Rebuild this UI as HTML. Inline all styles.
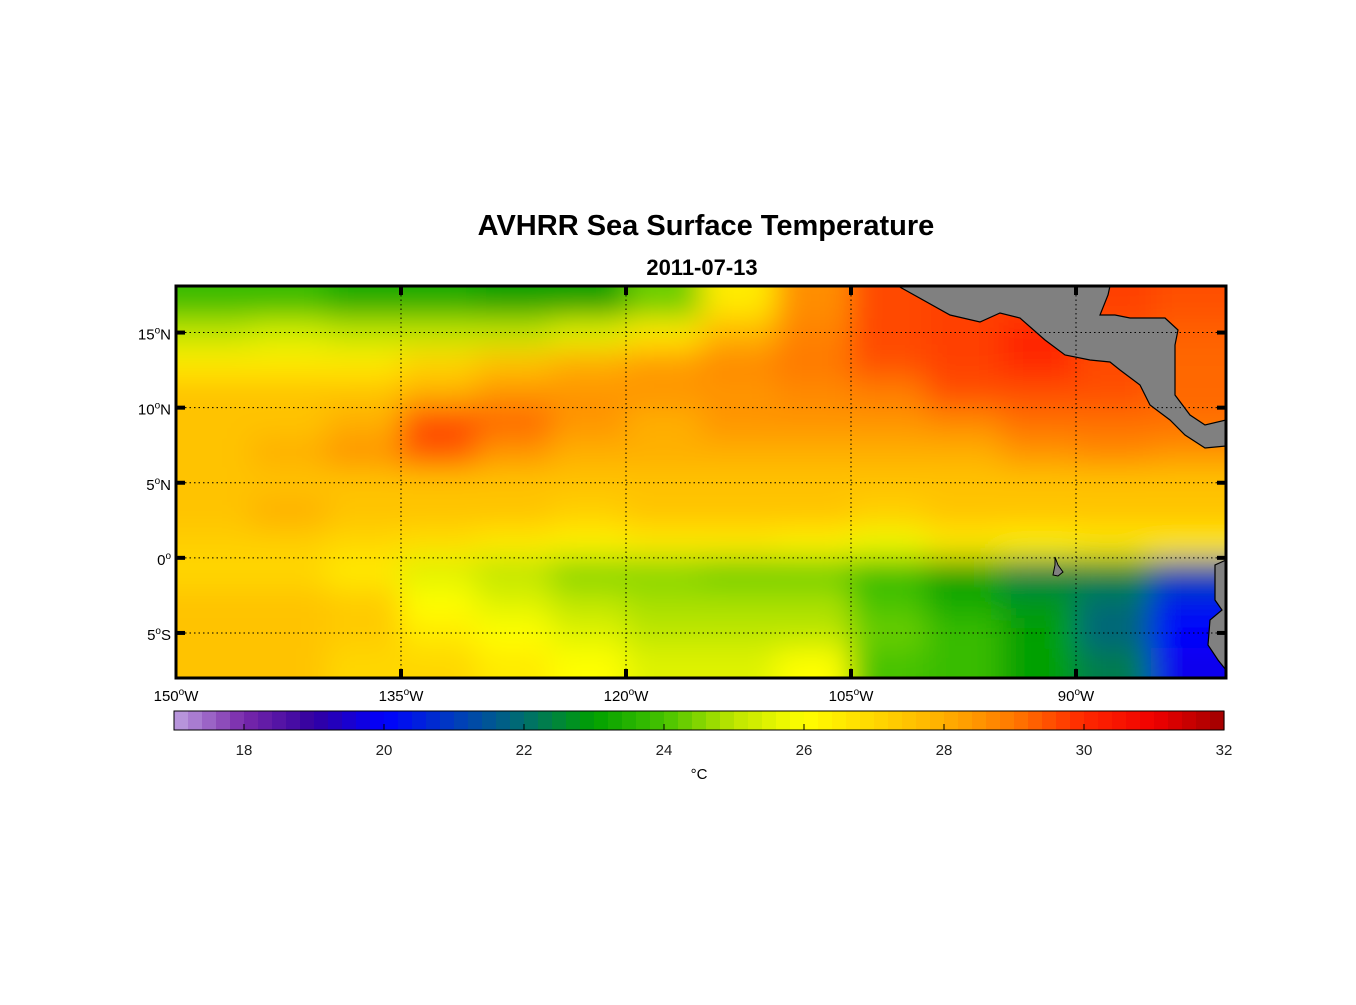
<!DOCTYPE html>
<html><head><meta charset="utf-8">
<style>
html,body{margin:0;padding:0;background:#fff;}
svg text{font-family:"Liberation Sans",Arial,sans-serif;}
</style></head>
<body>
<svg id="chart" width="1356" height="1000" viewBox="0 0 1356 1000" xmlns="http://www.w3.org/2000/svg">
<defs>
<filter id="blur" x="-5%" y="-5%" width="110%" height="110%"><feGaussianBlur stdDeviation="15"/></filter>
<clipPath id="mapclip"><rect x="176" y="286" width="1050" height="392"/></clipPath>
</defs>
<text x="706" y="235" text-anchor="middle" font-size="29" font-weight="bold">AVHRR Sea Surface Temperature</text>
<text x="702" y="275" text-anchor="middle" font-size="22" font-weight="bold">2011-07-13</text>
<g id="map" clip-path="url(#mapclip)">
<rect x="176" y="286" width="1050" height="392" fill="#ffb000"/>
<g id="cells" filter="url(#blur)"></g>
<path fill="#808080" stroke="#000" stroke-width="1.2" d="M898,286 L950,315 L980,322 L1000,313 L1020,318 L1045,340 L1065,355 L1090,360 L1110,362 L1120,370 L1140,385 L1150,405 L1170,420 L1185,435 L1205,448 L1226,446 L1226,420 L1205,425 L1190,415 L1175,395 L1175,345 L1178,330 L1165,318 L1130,318 L1115,315 L1100,315 L1108,295 L1110,286 Z"/>
<path fill="#808080" stroke="#000" stroke-width="1.2" d="M1226,560 L1215,565 L1215,600 L1222,610 L1210,620 L1208,645 L1218,660 L1226,670 Z"/>
<path fill="#808080" stroke="#000" stroke-width="1" d="M1055,557 L1058,565 L1063,572 L1058,576 L1053,575 L1055,565 Z"/>
<g id="grid"></g>
</g>
<rect x="176" y="286" width="1050" height="392" fill="none" stroke="#000" stroke-width="3"/>
<g id="ticks"></g>
<g id="colorbar"></g>
<text x="699" y="779" text-anchor="middle" font-size="15">°C</text>
</svg>
<script>
const lats=[17,15,13,11,9,7,5,3,1,-1,-3,-5,-7];
const lons=[-147.5,-142.5,-137.5,-132.5,-127.5,-122.5,-117.5,-112.5,-107.5,-102.5,-97.5,-92.5,-87.5,-82.5];
const sst=[
[23.8,23.8,23.3,23.3,23,23,24.3,26.5,28.6,29.6,29.7,29.7,29.7,29.5],
[25,25.3,25,25,25,25.5,26.5,27.8,28.8,29.6,29.7,30,29.5,29.3],
[26.5,26.5,26.5,27,27.5,28,28.3,28.7,29,29.5,29.7,30,29.6,29.2],
[27.5,27.5,27.5,28,28.5,28.5,28.5,28.5,28.7,28.9,29.5,29.5,29.5,29.2],
[27.5,27.5,28,29.6,29.2,28.5,28,28.5,28.5,28.5,28.7,29.1,29.1,29.1],
[27.5,28,28.5,29.4,28.5,28,28,28,28,28,28,28.5,28.7,28.5],
[27.5,27.5,27.5,27.5,27.5,27.5,27.5,27.5,27.5,27.5,27.5,27.5,27.5,27.5],
[27.5,28,27.5,27.5,27.5,27.2,27.5,27.5,27.5,27.2,27.5,27.5,27.5,27.5],
[27.2,27.2,27,26.8,26.5,26.3,26.5,26.5,26.3,25.8,26.5,26.3,26.5,26.5],
[27,27,26.5,25.5,25,24.5,24.5,24.3,24.3,23.8,23,22.3,22.5,21.3],
[27.5,27.5,27.3,26,25.5,25,24.8,24.8,24.8,24,23.3,22.8,22,20.3],
[27.5,27.5,27.3,26.5,26,25.5,25,25,25,24.3,23.8,23,21.8,20],
[27.5,27.5,27,27,26.5,26,25.5,25.5,26,24,23.8,23,22.3,19.8]];
const cbTicks=[18,20,22,24,26,28,30,32];
const lonTicks=[-150,-135,-120,-105,-90];
const latTicks=[15,10,5,0,-5];

const X0=176,Y0=286,W=1050,H=392;
const xs=lon=>X0+(lon+150)/70*W;
const ys=lat=>Y0+(18.1-lat)/26.1*H;
const cmapStops=[[17,[190,160,225]],[18,[120,40,170]],[19,[50,0,160]],[20,[0,0,255]],[21,[0,60,190]],[22,[0,110,110]],[23,[0,160,0]],[24,[70,195,0]],[25,[190,230,0]],[26,[255,255,0]],[27,[255,215,0]],[28,[255,175,0]],[29,[255,120,0]],[30,[255,40,0]],[31,[240,0,0]],[32,[160,0,0]]];
function cmap(v){
  v=Math.max(17,Math.min(32,v));
  for(let i=0;i<cmapStops.length-1;i++){
    const a=cmapStops[i],b=cmapStops[i+1];
    if(v<=b[0]){const t=(v-a[0])/(b[0]-a[0]);
      return 'rgb('+a[1].map((c,k)=>Math.round(c+(b[1][k]-c)*t)).join(',')+')';}
  }
  return 'rgb(160,0,0)';
}
const NS='http://www.w3.org/2000/svg';
function mk(tag,attrs,parent){const e=document.createElementNS(NS,tag);for(const k in attrs)e.setAttribute(k,attrs[k]);parent.appendChild(e);return e;}
const cells=document.getElementById('cells');
lats.forEach((lat,i)=>lons.forEach((lon,j)=>{
  let x1=xs(lon-2.5),x2=xs(lon+2.5),y1=ys(lat+1),y2=ys(lat-1);
  if(j===0)x1-=60; if(j===lons.length-1)x2+=60;
  if(i===0)y1-=60; if(i===lats.length-1)y2+=60;
  const r=mk('rect',{x:x1,y:y1,width:x2-x1+0.5,height:y2-y1+0.5,fill:cmap(sst[i][j])},cells);
  
  
}));
const grid=document.getElementById('grid'),ticks=document.getElementById('ticks');
lonTicks.forEach(l=>{
  const x=xs(l);
  if(l>-150){const g=mk('line',{x1:x,y1:Y0,x2:x,y2:Y0+H,stroke:'#000','stroke-width':1,'stroke-dasharray':'1.5,3'},grid);
  
  mk('line',{x1:x,y1:Y0,x2:x,y2:Y0+9,stroke:'#000','stroke-width':4},ticks);
  mk('line',{x1:x,y1:Y0+H-9,x2:x,y2:Y0+H,stroke:'#000','stroke-width':4},ticks);}
  const t=mk('text',{x:x,y:701,'text-anchor':'middle','font-size':15},ticks);
  
  t.innerHTML=Math.abs(l)+'<tspan dy="-6" font-size="10">o</tspan><tspan dy="6">W</tspan>';
});
latTicks.forEach(l=>{
  const y=ys(l);
  const g=mk('line',{x1:X0,y1:y,x2:X0+W,y2:y,stroke:'#000','stroke-width':1,'stroke-dasharray':'1.5,3'},grid);
  
  mk('line',{x1:X0,y1:y,x2:X0+9,y2:y,stroke:'#000','stroke-width':4},ticks);
  mk('line',{x1:X0+W-9,y1:y,x2:X0+W,y2:y,stroke:'#000','stroke-width':4},ticks);
  const t=mk('text',{x:171,y:y+7,'text-anchor':'end','font-size':15},ticks);
  
  const hemi=l>0?'N':(l<0?'S':'');
  t.innerHTML=Math.abs(l)+'<tspan dy="-6" font-size="10">o</tspan><tspan dy="6">'+hemi+'</tspan>';
});
const cb=document.getElementById('colorbar');
const CX0=174,CX1=1224,CY=711,CH=19;
const cbx=v=>CX0+(v-17)/15*(CX1-CX0);
const nSteps=75;
for(let k=0;k<nSteps;k++){
  const v0=17+k*15/nSteps,v1=17+(k+1)*15/nSteps;
  mk('rect',{x:cbx(v0),y:CY,width:cbx(v1)-cbx(v0)+0.6,height:CH,fill:cmap((v0+v1)/2)},cb);
}
mk('rect',{x:CX0,y:CY,width:CX1-CX0,height:CH,fill:'none',stroke:'#000','stroke-width':1},cb);
cbTicks.forEach(v=>{
  const x=cbx(v);
  mk('line',{x1:x,y1:CY+CH-6,x2:x,y2:CY+CH,stroke:'#000','stroke-width':1},cb);
  const t=mk('text',{x:x,y:755,'text-anchor':'middle','font-size':15,fill:'#222'},cb);
  
  t.textContent=v;
});
</script>
</body></html>
